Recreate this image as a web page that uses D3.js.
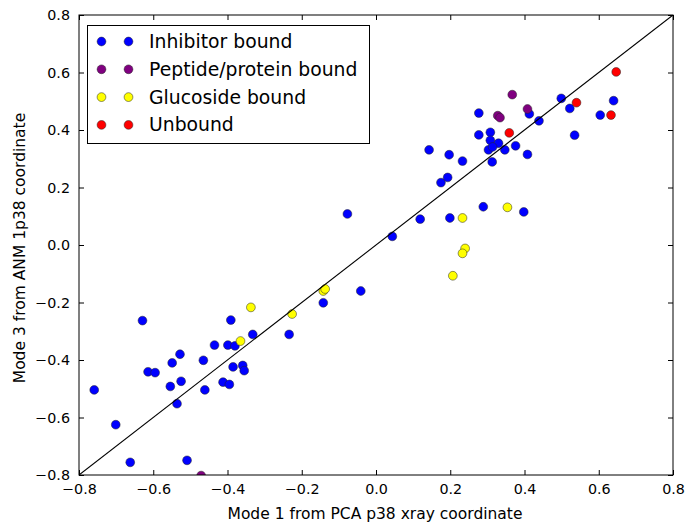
<!DOCTYPE html>
<html>
<head>
<meta charset="utf-8">
<script src="https://cdn.jsdelivr.net/npm/d3@7"></script>
<style>
  html, body { margin: 0; padding: 0; background: #fff; }
  svg { display: block; }
  text { font-family: "DejaVu Sans", sans-serif; fill: #000; }
</style>
</head>
<body>
<div id="chart"></div>
<script>
// Mode projections per structure class: [mode 1 (PCA), mode 3 (ANM)]
const inhibitorBound = [
  [-0.759, -0.504], [-0.701, -0.625], [-0.662, -0.756], [-0.629, -0.263],
  [-0.614, -0.441], [-0.595, -0.444], [-0.554, -0.492], [-0.549, -0.410],
  [-0.528, -0.380], [-0.525, -0.474], [-0.536, -0.552], [-0.509, -0.749],
  [-0.465, -0.401], [-0.461, -0.504], [-0.435, -0.348], [-0.412, -0.477],
  [-0.395, -0.485], [-0.399, -0.348], [-0.391, -0.261], [-0.380, -0.351],
  [-0.385, -0.424], [-0.359, -0.419], [-0.355, -0.437], [-0.332, -0.311],
  [-0.234, -0.311], [-0.142, -0.201], [-0.041, -0.160],
  [-0.077, 0.108], [0.044, 0.030], [0.119, 0.090], [0.199, 0.094],
  [0.289, 0.133], [0.398, 0.115], [0.175, 0.217], [0.193, 0.235],
  [0.233, 0.292], [0.143, 0.331], [0.197, 0.314],
  [0.277, 0.459], [0.277, 0.383], [0.308, 0.392], [0.308, 0.364],
  [0.330, 0.354], [0.303, 0.331], [0.314, 0.341], [0.347, 0.331],
  [0.376, 0.345], [0.313, 0.289], [0.408, 0.315],
  [0.413, 0.456], [0.439, 0.432], [0.499, 0.510], [0.522, 0.475],
  [0.535, 0.382], [0.604, 0.452], [0.640, 0.502]
];
const peptideBound = [
  [-0.471, -0.802], [0.328, 0.450], [0.334, 0.443], [0.367, 0.523], [0.408, 0.473]
];
const glucosideBound = [
  [-0.365, -0.334], [-0.337, -0.217], [-0.226, -0.240], [-0.142, -0.160],
  [-0.137, -0.153], [0.233, 0.094], [0.240, -0.012], [0.233, -0.029],
  [0.207, -0.107], [0.354, 0.131]
];
const unbound = [
  [0.359, 0.390], [0.540, 0.495], [0.647, 0.602], [0.633, 0.452]
];

const seriesNames = ["Inhibitor bound", "Peptide/protein bound", "Glucoside bound", "Unbound"];
const seriesColors = ["#0000ff", "#800080", "#ffff00", "#ff0000"];
const seriesData = [inhibitorBound, peptideBound, glucosideBound, unbound];

const xTicks = [-0.8, -0.6, -0.4, -0.2, 0.0, 0.2, 0.4, 0.6, 0.8];
const yTicks = [-0.8, -0.6, -0.4, -0.2, 0.0, 0.2, 0.4, 0.6, 0.8];
const xLabel = "Mode 1 from PCA p38 xray coordinate";
const yLabel = "Mode 3 from ANM 1p38 coordinate";

const W = 686, H = 525;
const plot = { left: 79, right: 673, top: 15, bottom: 475 };

const svg = d3.select("#chart").append("svg")
  .attr("width", W).attr("height", H);

const x = d3.scaleLinear().domain([-0.8, 0.8]).range([plot.left, plot.right]);
const y = d3.scaleLinear().domain([-0.8, 0.8]).range([plot.bottom, plot.top]);

const fmt = v => d3.format(".1f")(v).replace("-", "\u2212");

svg.append("clipPath").attr("id", "plotClip")
  .append("rect")
  .attr("x", plot.left).attr("y", plot.top)
  .attr("width", plot.right - plot.left).attr("height", plot.bottom - plot.top);

// Points
const pts = svg.append("g").attr("clip-path", "url(#plotClip)");
seriesData.forEach((data, i) => {
  pts.append("g").selectAll("circle").data(data).join("circle")
    .attr("cx", d => x(d[0]))
    .attr("cy", d => y(d[1]))
    .attr("r", 4.4)
    .attr("fill", seriesColors[i])
    .attr("stroke", "#222")
    .attr("stroke-width", 0.5);
});

// Identity line
pts.append("line")
  .attr("x1", x(-0.8)).attr("y1", y(-0.8))
  .attr("x2", x(0.8)).attr("y2", y(0.8))
  .attr("stroke", "#000").attr("stroke-width", 1.1);

// Axes: inward ticks on all four sides
const tickLen = 5;
const bottomAxis = d3.axisBottom(x).tickValues(xTicks).tickFormat(fmt)
  .tickSizeInner(-tickLen).tickSizeOuter(0).tickPadding(9);
const topAxis = d3.axisTop(x).tickValues(xTicks).tickFormat("")
  .tickSizeInner(-tickLen).tickSizeOuter(0);
const leftAxis = d3.axisLeft(y).tickValues(yTicks).tickFormat(fmt)
  .tickSizeInner(-tickLen).tickSizeOuter(0).tickPadding(9);
const rightAxis = d3.axisRight(y).tickValues(yTicks).tickFormat("")
  .tickSizeInner(-tickLen).tickSizeOuter(0);

function styleAxis(g) {
  g.select(".domain").remove();
  g.selectAll(".tick line").attr("stroke", "#000").attr("stroke-width", 1);
  g.selectAll(".tick text")
    .attr("font-family", "DejaVu Sans, sans-serif")
    .attr("font-size", 14.3).attr("fill", "#000");
}

svg.append("g").attr("transform", `translate(0,${plot.bottom})`).call(bottomAxis).call(styleAxis);
svg.append("g").attr("transform", `translate(0,${plot.top})`).call(topAxis).call(styleAxis);
svg.append("g").attr("transform", `translate(${plot.left},0)`).call(leftAxis).call(styleAxis);
svg.append("g").attr("transform", `translate(${plot.right},0)`).call(rightAxis).call(styleAxis);

// Frame
svg.append("rect")
  .attr("x", plot.left).attr("y", plot.top)
  .attr("width", plot.right - plot.left).attr("height", plot.bottom - plot.top)
  .attr("fill", "none").attr("stroke", "#000").attr("stroke-width", 1);

// Axis titles
svg.append("text")
  .attr("x", (plot.left + plot.right) / 2 - 1).attr("y", 519)
  .attr("text-anchor", "middle").attr("font-size", 15.5)
  .text(xLabel);
svg.append("text")
  .attr("transform", `translate(25,248) rotate(-90)`)
  .attr("text-anchor", "middle").attr("font-size", 15.5)
  .text(yLabel);

// Legend
const legend = svg.append("g");
legend.append("rect")
  .attr("x", 87.5).attr("y", 25.5).attr("width", 282).attr("height", 118)
  .attr("fill", "#fff").attr("stroke", "#000").attr("stroke-width", 1);
seriesNames.forEach((name, i) => {
  const cy = 41.5 + i * 27.8;
  [101.5, 128.5].forEach(cx => {
    legend.append("circle")
      .attr("cx", cx).attr("cy", cy).attr("r", 4.4)
      .attr("fill", seriesColors[i]).attr("stroke", "#222").attr("stroke-width", 0.5);
  });
  legend.append("text")
    .attr("x", 149).attr("y", cy).attr("dy", "0.35em")
    .attr("font-size", 18.8)
    .text(name);
});
</script>
</body>
</html>
